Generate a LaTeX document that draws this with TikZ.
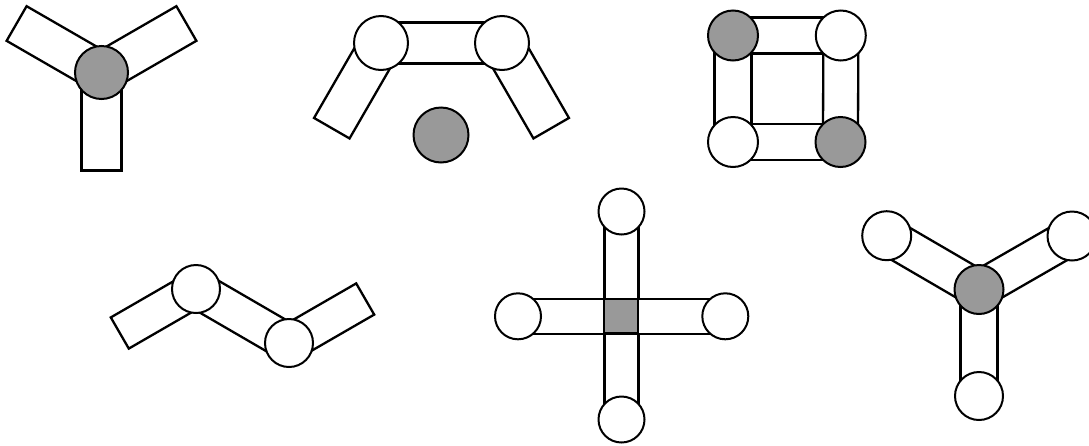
\documentclass[tikz,border=0pt]{standalone}
\usetikzlibrary{calc}
\pgfdeclarelayer{background}
\pgfsetlayers{background,main}
\definecolor{jointgray}{RGB}{153,153,153}
\tikzset{
  lw/.style={line width=2pt},
  joint/.style={circle, draw=black, lw, fill=white, inner sep=0pt, minimum size=#1},
  gjoint/.style={joint=#1, fill=jointgray},
  gsquare/.style={rectangle, draw=black, lw, fill=jointgray, inner sep=0pt, minimum size=#1},
  barstyle/.style={draw=black, fill=white, line width=2.3pt, line join=miter}
}
% bar between two named points #1, #2 with half width #3
\newcommand\linkbar[3]{%
  \filldraw[barstyle] ($(#1)!#3!90:(#2)$) -- ($(#1)!#3!-90:(#2)$) -- ($(#2)!#3!90:(#1)$) -- ($(#2)!#3!-90:(#1)$) -- cycle;}
\begin{document}
\begin{tikzpicture}[x=1pt,y=-1pt]
\useasboundingbox (0,0) rectangle (1089,445);
\clip (0,0) rectangle (1089,445);

% ---------- Figure 1: three arms around grey joint ----------
\node[gjoint=53pt] (f1c) at (101.5,72.5) {};
\coordinate (f1d) at (101.5,170.5);
\coordinate (f1l) at (16.6,23.5);
\coordinate (f1r) at (186.4,23.5);
\begin{pgfonlayer}{background}
\linkbar{f1c.center}{f1d}{20pt}
\linkbar{f1c.center}{f1l}{20pt}
\linkbar{f1c.center}{f1r}{20pt}
\end{pgfonlayer}

% ---------- Figure 2: arch with grey joint below ----------
\node[joint=54pt] (f2l) at (381,43) {};
\node[joint=54pt] (f2r) at (502,43) {};
\node[gjoint=55pt] (f2g) at (441,135) {};
\coordinate (f2le) at (331.8,128.2);
\coordinate (f2re) at (551.2,128.2);
\begin{pgfonlayer}{background}
\linkbar{f2l.center}{f2r.center}{20.5pt}
\linkbar{f2l.center}{f2le}{20.5pt}
\linkbar{f2r.center}{f2re}{20.5pt}
\end{pgfonlayer}

% ---------- Figure 3: square ring ----------
\node[gjoint=50pt] (f3tl) at (733,35.5) {};
\node[joint=50pt] (f3tr) at (840.8,35.5) {};
\node[joint=50pt] (f3bl) at (733,142) {};
\node[gjoint=50pt] (f3br) at (840.5,142) {};
\begin{pgfonlayer}{background}
\linkbar{f3tl.center}{f3tr.center}{18pt}
\linkbar{f3tr.center}{f3br.center}{17.5pt}
\linkbar{f3br.center}{f3bl.center}{18pt}
\linkbar{f3bl.center}{f3tl.center}{18.5pt}
\end{pgfonlayer}

% ---------- Figure 4: zigzag chain ----------
\node[joint=48pt] (f4a) at (196,289) {};
\node[joint=48pt] (f4b) at (289,343) {};
\coordinate (f4ae) at (119.8,333);
\coordinate (f4be) at (365.2,299);
\begin{pgfonlayer}{background}
\linkbar{f4a.center}{f4ae}{18pt}
\linkbar{f4a.center}{f4b.center}{18.5pt}
\linkbar{f4b.center}{f4be}{18pt}
\end{pgfonlayer}

% ---------- Figure 5: cross ----------
\node[gsquare=34pt] (f5c) at (621,316) {};
\node[joint=46pt] (f5t) at (621.5,211.5) {};
\node[joint=46pt] (f5b) at (621.5,419.5) {};
\node[joint=46pt] (f5l) at (518,316.3) {};
\node[joint=46pt] (f5r) at (725.3,316.3) {};
\begin{pgfonlayer}{background}
\linkbar{f5t.center}{f5b.center}{17pt}
\linkbar{f5l.center}{f5r.center}{17.5pt}
\end{pgfonlayer}

% ---------- Figure 6: Y with end joints ----------
\node[gjoint=49pt] (f6c) at (979,289.5) {};
\node[joint=49pt] (f6l) at (886.7,235.7) {};
\node[joint=49pt] (f6r) at (1072,236) {};
\node[joint=48pt] (f6b) at (979,396) {};
\begin{pgfonlayer}{background}
\linkbar{f6c.center}{f6l.center}{18.5pt}
\linkbar{f6c.center}{f6r.center}{18.5pt}
\linkbar{f6c.center}{f6b.center}{18.5pt}
\end{pgfonlayer}
\end{tikzpicture}
\end{document}
